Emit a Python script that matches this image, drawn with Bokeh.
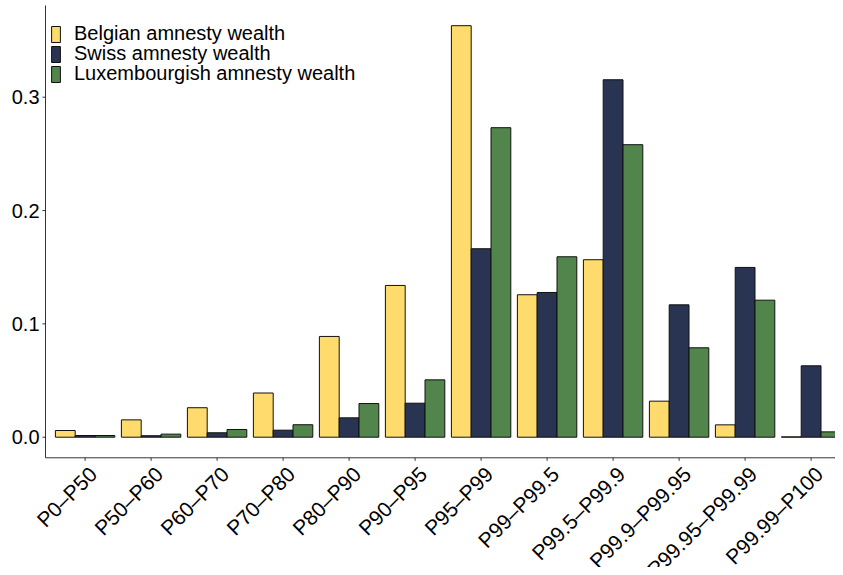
import numpy as np
from bokeh.plotting import figure
from bokeh.models import Range1d, Legend, LegendItem, ColumnDataSource
from bokeh.core.properties import value
from bokeh.embed import file_html
from bokeh.resources import INLINE

categories = ["P0–P50", "P50–P60", "P60–P70", "P70–P80", "P80–P90", "P90–P95",
              "P95–P99", "P99–P99.5", "P99.5–P99.9", "P99.9–P99.95", "P99.95–P99.99", "P99.99–P100"]
belgian = [0.0059, 0.0153, 0.026, 0.039, 0.0889, 0.1339, 0.3631, 0.1257, 0.1566, 0.0318, 0.0109, 0.0003]
swiss = [0.0015, 0.0013, 0.0039, 0.0062, 0.0171, 0.030, 0.1663, 0.1277, 0.3154, 0.1168, 0.1498, 0.063]
luxembourg = [0.0015, 0.0027, 0.0068, 0.011, 0.0297, 0.0506, 0.2731, 0.1592, 0.2581, 0.0789, 0.1209, 0.0047]
series_names = ["Belgian amnesty wealth", "Swiss amnesty wealth", "Luxembourgish amnesty wealth"]
colors = ["#FFDB6D", "#293352", "#52854C"]
y_ticks = [0.0, 0.1, 0.2, 0.3]
y_tick_labels = [f"{v:.1f}" for v in y_ticks]

# canvas = frame; scales chosen so the panel sits like the reference
W, H = 835, 567
PX_X = 66.0          # px per category
PX_Y = 1133.3        # px per unit of share
AX_LEFT_PX, ZERO_PX, TOP_PX, AXB_PX = 45, 436.7, 5, 457.3
AXX = 0.4                                   # y-axis line position (ggplot 0.6 expansion)
XL = AXX - AX_LEFT_PX / PX_X
XR = XL + W / PX_X
YT = ZERO_PX / PX_Y
YB = -(H - ZERO_PX) / PX_Y
AXY = -(AXB_PX - ZERO_PX) / PX_Y            # x-axis line position
YTOP = (ZERO_PX - TOP_PX) / PX_Y            # top of y-axis line
TICK = 3
AX_COL = "#333333"
FONT = value("Liberation Sans")

p = figure(width=W, height=H, output_backend="svg", toolbar_location=None,
           x_range=Range1d(XL, XR), y_range=Range1d(YB, YT),
           x_axis_location=None, y_axis_location=None,
           min_border_left=0, min_border_right=0, min_border_top=0, min_border_bottom=0)
p.outline_line_color = None
p.grid.visible = False
p.background_fill_color = "white"
p.border_fill_color = "white"

pos = np.arange(1, len(categories) + 1)
bw = 0.3
renderers = []
for k, (vals, col) in enumerate(zip([belgian, swiss, luxembourg], colors)):
    src = ColumnDataSource(dict(x=pos + (k - 1) * bw, top=vals))
    r = p.vbar(x="x", top="top", bottom=0, width=bw, source=src,
               fill_color=col, line_color="#111111", line_width=1)
    renderers.append(r)

# axis lines
p.segment(x0=[AXX, AXX], y0=[AXY, AXY], x1=[XR, AXX], y1=[AXY, YTOP],
          line_color=AX_COL, line_width=1)
# x ticks
p.segment(x0=pos, y0=[AXY] * len(pos), x1=pos, y1=[AXY - TICK / PX_Y] * len(pos),
          line_color=AX_COL, line_width=1)
# y ticks and labels
p.segment(x0=[AXX] * len(y_ticks), y0=y_ticks, x1=[AXX - TICK / PX_X] * len(y_ticks), y1=y_ticks,
          line_color=AX_COL, line_width=1)
ysrc = ColumnDataSource(dict(x=[AXX - (TICK + 3) / PX_X] * len(y_ticks), y=y_ticks, text=y_tick_labels))
p.text(x="x", y="y", text="text", source=ysrc, text_align="right", text_baseline="middle",
       text_font=FONT, text_font_size=value("20px"), text_color="black")

# rotated category labels: top-right corner just under each tick
xsrc = ColumnDataSource(dict(x=pos, y=[AXY - (TICK + 1.5) / PX_Y] * len(pos), text=categories))
p.text(x="x", y="y", text="text", source=xsrc, angle=np.pi / 4,
       text_align="right", text_baseline="top",
       text_font=FONT, text_font_size=value("21px"), text_color="black")

# legend: one Legend per row so rows sit 20px apart
row_h = 23
for k, (n, r) in enumerate(zip(series_names, renderers)):
    top_px = 22 + 20 * k
    lg = Legend(items=[LegendItem(label=n, renderers=[r])],
                location=(50, H - top_px - row_h), orientation="vertical")
    lg.glyph_width = 11
    lg.glyph_height = 20
    lg.label_height = 20
    lg.spacing = 0
    lg.padding = 0
    lg.margin = 0
    lg.label_standoff = 13
    lg.label_text_font = "Liberation Sans"
    lg.label_text_font_size = "20px"
    lg.label_text_color = "black"
    lg.border_line_alpha = 0
    lg.background_fill_alpha = 0
    p.add_layout(lg, "center")

open("out.html", "w").write(file_html(p, INLINE))
